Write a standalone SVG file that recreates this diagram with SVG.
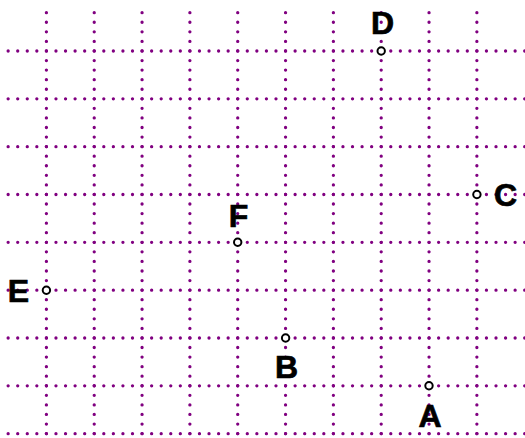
<svg xmlns="http://www.w3.org/2000/svg" width="525" height="438" viewBox="0 0 525 438">
<style>
.g{fill:none;stroke:#800080;stroke-width:3.3;stroke-linecap:round;stroke-dasharray:0 9.566}
.pt{fill:#fff;stroke:#000;stroke-width:2}
.lb{font-family:"Liberation Sans",Arial,sans-serif;font-weight:bold;font-size:32px;fill:#000;stroke:#000;stroke-width:0.7;text-anchor:middle}
</style>
<rect width="525" height="438" fill="#fff"/>
<g id="grid">
<path class="g" d="M46.4 12.7V434M94.23 12.7V434M142.06 12.7V434M189.89 12.7V434M237.72 12.7V434M285.55 12.7V434M333.38 12.7V434M381.21 12.7V434M429.04 12.7V434M476.87 12.7V434"/>
<path class="g" d="M8.14 51H525M8.14 98.83H525M8.14 146.66H525M8.14 194.49H525M8.14 242.32H525M8.14 290.15H525M8.14 337.98H525M8.14 385.81H525M8.14 433.64H525"/>
</g>
<g id="D"><circle class="pt" cx="381.2" cy="51" r="3.7"/><text class="lb" x="382.5" y="34">D</text></g>
<g id="C"><circle class="pt" cx="476.9" cy="194.5" r="3.7"/><text class="lb" x="505.5" y="205.5">C</text></g>
<g id="F"><circle class="pt" cx="237.7" cy="242.3" r="3.7"/><text class="lb" x="238.5" y="226.5">F</text></g>
<g id="E"><circle class="pt" cx="46.4" cy="290.2" r="3.7"/><text class="lb" x="18.5" y="302">E</text></g>
<g id="B"><circle class="pt" cx="285.6" cy="338" r="3.7"/><text class="lb" x="286.5" y="378">B</text></g>
<g id="A"><circle class="pt" cx="429" cy="385.8" r="3.7"/><text class="lb" x="430" y="426.5">A</text></g>
</svg>
